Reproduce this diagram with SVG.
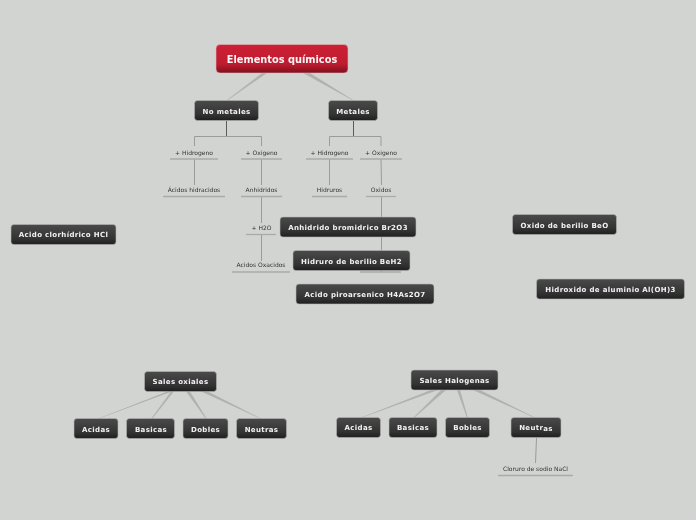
<svg xmlns="http://www.w3.org/2000/svg" width="696" height="520" viewBox="0 0 696 520">
<style>
.n{fill:url(#dk);stroke:#b4b6b3;stroke-width:.6}
.t{font:bold 7px "DejaVu Sans",sans-serif;fill:#f2f2f2;text-anchor:middle;letter-spacing:.35px;filter:url(#g)}
.l{font:6px "DejaVu Sans",sans-serif;fill:#333;text-anchor:middle;filter:url(#g)}
.u{stroke:#a9aba8;stroke-width:1.3;fill:none}
.c{stroke:#9a9c99;stroke-width:1;fill:none}
.d{stroke:#5c5c5c;stroke-width:1;fill:none}
.w{fill:#b0b2af}
</style>
<defs>
<filter id="g" x="-10%" y="-50%" width="120%" height="200%"><feOffset dx="0" dy="0"/></filter>
<linearGradient id="dk" x1="0" y1="0" x2="0" y2="1"><stop offset="0" stop-color="#4a4a4a"/><stop offset=".7" stop-color="#333"/><stop offset="1" stop-color="#1f1f1f"/></linearGradient>
<linearGradient id="rd" x1="0" y1="0" x2="0" y2="1"><stop offset="0" stop-color="#cc2035"/><stop offset=".68" stop-color="#c01c30"/><stop offset="1" stop-color="#7f0f1e"/></linearGradient>
</defs>
<rect width="696" height="520" fill="#d2d4d1"/>
<g id="connectors">
<polygon class="w" points="262,73 267,73 228,100 227,100"/>
<polygon class="w" points="303,73 310,73 353,100 352,100"/>
<path class="d" d="M226.500 121V136"/>
<path class="c" d="M194.500 146V136.500H261.500V146"/>
<path class="d" d="M353.500 121V136"/>
<path class="c" d="M329.500 146V136.500H381V146"/>
<path class="c" d="M194.500 159V185M261.500 159V185M329.500 159V185M381 159L381.500 185"/>
<path class="c" d="M261.500 197V223M261.500 235V261M381.500 197V272"/>
<polygon class="w" points="171,390 176,390 98,419 97,419"/>
<polygon class="w" points="172,390 175,390 152,419 151,419"/>
<polygon class="w" points="185,390 189,390 207,419 206,419"/>
<polygon class="w" points="198,390 205,390 262,419 261,419"/>
<polygon class="w" points="431,390 438,390 361,418 360,418"/>
<polygon class="w" points="441,390 446,390 414,418 413,418"/>
<polygon class="w" points="457,390 460,390 468,418 467,418"/>
<polygon class="w" points="473,390 480,390 536,418 535,418"/>
<path class="c" d="M536.500 438L535.500 463"/>
</g>
<g id="root"><rect x="216" y="44.500" width="132" height="28.500" rx="4" fill="url(#rd)" stroke="#d9b9bd" stroke-width=".6"/><text x="282" y="63" text-anchor="middle" style="font:bold 9.800px 'DejaVu Sans',sans-serif;fill:#f6f6f6;filter:url(#g)">Elementos químicos</text></g>
<g id="no-metales"><rect class="n" x="194.500" y="100.500" width="64" height="20" rx="3"/><text class="t" x="226.500" y="114">No metales</text></g>
<g id="metales"><rect class="n" x="328.500" y="100.500" width="49" height="20" rx="3"/><text class="t" x="353" y="114">Metales</text></g>
<g id="h1"><text class="l" x="194" y="154.500">+ Hidrogeno</text><path class="u" d="M170 159H218"/></g>
<g id="o1"><text class="l" x="261.500" y="154.500">+ Oxigeno</text><path class="u" d="M241 159H282"/></g>
<g id="h2"><text class="l" x="329.500" y="154.500">+ Hidrogeno</text><path class="u" d="M306 159H353"/></g>
<g id="o2"><text class="l" x="381" y="154.500">+ Oxigeno</text><path class="u" d="M360 159H402"/></g>
<g id="acidos-hidracidos"><text class="l" x="194" y="192">Ácidos hidracidos</text><path class="u" d="M163 196.500H225"/></g>
<g id="anhidridos"><text class="l" x="261.500" y="192">Anhidridos</text><path class="u" d="M241 196.500H282"/></g>
<g id="hidruros"><text class="l" x="329.500" y="192">Hidruros</text><path class="u" d="M312 196.500H347"/></g>
<g id="oxidos"><text class="l" x="381" y="192">Oxidos</text><path class="u" d="M366 196.500H396"/></g>
<g id="h2o"><text class="l" x="261.500" y="230">+ H2O</text><path class="u" d="M246 234.500H276"/></g>
<g id="acidos-oxacidos"><text class="l" x="261" y="267">Acidos Oxacidos</text><path class="u" d="M232 272H290"/></g>
<g id="oxido-leaf"><path class="u" d="M360 272H401"/></g>
<g id="anhidrido"><rect class="n" x="280" y="217" width="136" height="20" rx="3"/><text class="t" x="348" y="230">Anhidrido bromidrico Br2O3</text></g>
<g id="hidruro"><rect class="n" x="293" y="250.500" width="117" height="20" rx="3"/><text class="t" x="351.500" y="264">Hidruro de berilio BeH2</text></g>
<g id="acido-piro"><rect class="n" x="296" y="284" width="138" height="20" rx="3"/><text class="t" x="365" y="297">Acido piroarsenico H4As2O7</text></g>
<g id="acido-clor"><rect class="n" x="11" y="224.500" width="105" height="20" rx="3"/><text class="t" x="63.500" y="237">Acido clorhídrico HCl</text></g>
<g id="oxido-berilio"><rect class="n" x="512.500" y="214.500" width="104" height="20" rx="3"/><text class="t" x="564.500" y="228">Oxido de berilio BeO</text></g>
<g id="hidroxido"><rect class="n" x="536.500" y="279" width="148" height="20" rx="3"/><text class="t" x="610.500" y="292">Hidroxido de aluminio Al(OH)3</text></g>
<g id="sales-oxiales"><rect class="n" x="144.500" y="371.500" width="72" height="20" rx="3"/><text class="t" x="180.500" y="384">Sales oxiales</text></g>
<g id="acidas1"><rect class="n" x="74" y="418.500" width="44" height="20" rx="3"/><text class="t" x="96" y="432">Acidas</text></g>
<g id="basicas1"><rect class="n" x="126.500" y="418.500" width="48" height="20" rx="3"/><text class="t" x="151" y="432">Basicas</text></g>
<g id="dobles"><rect class="n" x="183" y="418.500" width="45" height="20" rx="3"/><text class="t" x="205.500" y="432">Dobles</text></g>
<g id="neutras1"><rect class="n" x="236.500" y="418.500" width="50" height="20" rx="3"/><text class="t" x="261.500" y="432">Neutras</text></g>
<g id="sales-halogenas"><rect class="n" x="411" y="370" width="87" height="20" rx="3"/><text class="t" x="454.500" y="383">Sales Halogenas</text></g>
<g id="acidas2"><rect class="n" x="336.500" y="417.500" width="44" height="20" rx="3"/><text class="t" x="358.500" y="430">Acidas</text></g>
<g id="basicas2"><rect class="n" x="389" y="417.500" width="48" height="20" rx="3"/><text class="t" x="413" y="430">Basicas</text></g>
<g id="bobles"><rect class="n" x="445.500" y="417.500" width="44" height="20" rx="3"/><text class="t" x="467.500" y="430">Bobles</text></g>
<g id="neutras2"><rect class="n" x="511" y="417.500" width="50" height="20" rx="3"/><text class="t" x="536" y="430">Neutr<tspan dy="1">as</tspan></text></g>
<g id="cloruro"><text class="l" x="535.500" y="471">Cloruro de sodio NaCl</text><path class="u" d="M498 475.500H573"/></g>
</svg>
